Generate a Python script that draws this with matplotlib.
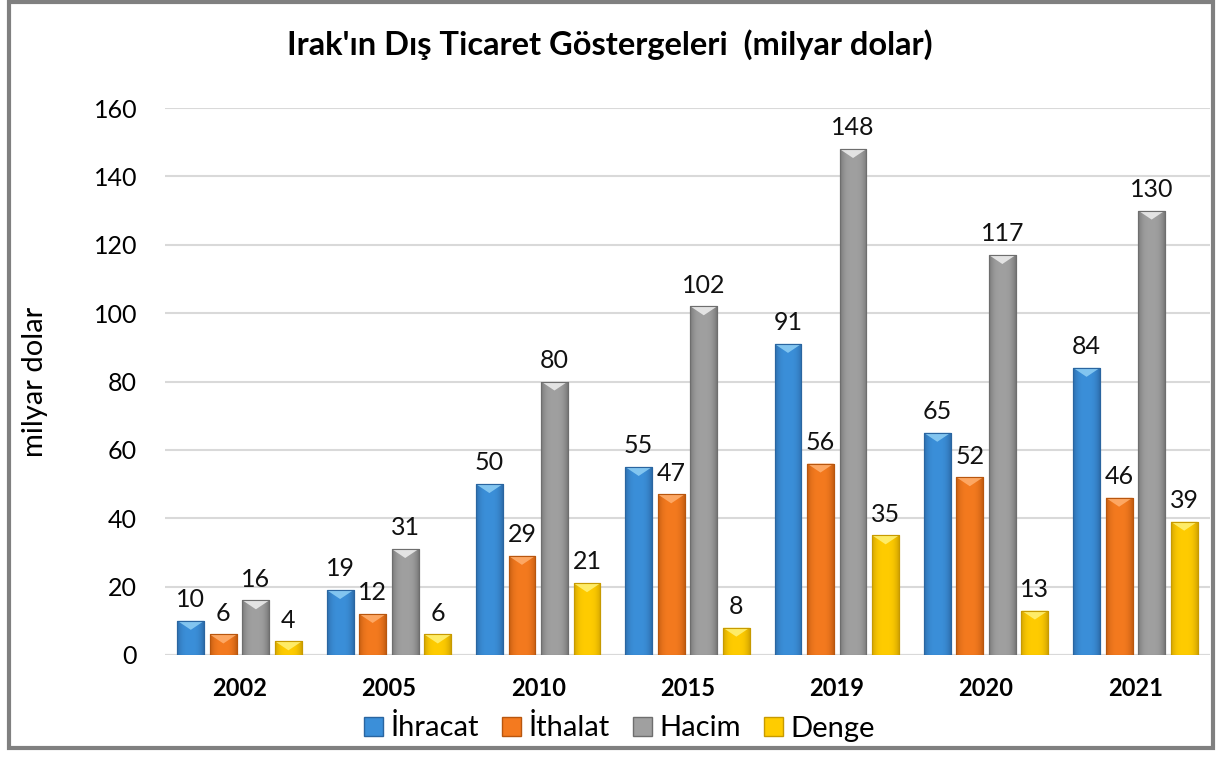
import matplotlib
matplotlib.use("Agg")
import matplotlib.pyplot as plt
import numpy as np
from matplotlib.patches import Rectangle, Polygon
from matplotlib.colors import to_rgb

plt.rcParams['font.family'] = ['Lato', 'DejaVu Sans']

years = ['2002', '2005', '2010', '2015', '2019', '2020', '2021']
ihracat = [10, 19, 50, 55, 91, 65, 84]
ithalat = [6, 12, 29, 47, 56, 52, 46]
hacim = [16, 31, 80, 102, 148, 117, 130]
denge = [4, 6, 21, 8, 35, 13, 39]
series_names = ['İhracat', 'İthalat', 'Hacim', 'Denge']
series = [ihracat, ithalat, hacim, denge]
colors = ['#3B8FD9', '#F47A1F', '#A0A0A0', '#FFCC00']
dark = ['#2A65A0', '#B8560E', '#6E6E6E', '#C79A00']
light = ['#8FD0F5', '#FFB070', '#F0F0F0', '#FFF27A']

fig = plt.figure(figsize=(12.2, 7.58), dpi=100)
ax = fig.add_axes([165/1220, 1-655/758, 1045/1220, 547/758])
ax.set_xlim(-0.5, len(years)-0.5)
ax.set_ylim(0, 160)
ax.set_yticks(range(0, 161, 20))
ax.yaxis.grid(True, color='#D9D9D9', linewidth=1.5)
ax.set_axisbelow(True)
for s in ax.spines.values():
    s.set_visible(False)
ax.axhline(0, color='#D9D9D9', linewidth=1.5, zorder=1)
ax.tick_params(length=0)
ax.tick_params(axis='y', labelsize=18, pad=20)
ax.set_xticks(range(len(years)))
ax.set_xticklabels(years, fontsize=17, fontweight='bold')
ax.tick_params(axis='x', pad=16)

x = np.arange(len(years))
pitch = 0.218
width = 0.18
px_per_unit_y = 547/160
depth = 9/px_per_unit_y

def blend(c1, c2, t):
    a = np.array(to_rgb(c1)); b = np.array(to_rgb(c2))
    return a*(1-t)+b*t

for i, (vals, c) in enumerate(zip(series, colors)):
    pos = x + (i-1.5)*pitch
    bars = ax.bar(pos, vals, width, color=c, edgecolor=dark[i], linewidth=0.8, zorder=2, label=series_names[i])
    for b, v in zip(bars, vals):
        x0 = b.get_x(); x1 = x0 + b.get_width(); h = b.get_height()
        n = 64
        t = np.abs(np.linspace(-1, 1, n))
        grad = np.array([blend(c, dark[i], tt**3*0.8) for tt in t])[None, :, :]
        im = ax.imshow(grad, extent=[x0, x1, 0, h], aspect='auto', zorder=2.1, interpolation='bilinear')
        im.set_clip_path(b)
        d = min(depth, h)
        tri = Polygon([[x0, h], [x1, h], [(x0+x1)/2, h-d]], closed=True,
                      facecolor=light[i], edgecolor='none', alpha=0.85, zorder=2.2)
        ax.add_patch(tri)
        ax.add_patch(Rectangle((x0, 0), x1-x0, h, fill=False, edgecolor=dark[i], linewidth=0.8, zorder=2.3))
        ax.annotate(str(v), (b.get_x()+b.get_width()/2, h), xytext=(0, 7), textcoords='offset points',
                    ha='center', va='bottom', fontsize=18, color='#111111')
    ax.set_xlim(-0.5, len(years)-0.5)
    ax.set_ylim(0, 160)

ax.set_ylabel('milyar dolar', fontsize=21)
ax.yaxis.set_label_coords(-0.112, 0.5)

fig.text(0.5, 1-45/758, "Irak'ın Dış Ticaret Göstergeleri  (milyar dolar)", ha='center', va='center',
         fontsize=23.5, fontweight='bold')

handles = [Rectangle((0, 0), 1, 1, facecolor=colors[i], edgecolor=dark[i]) for i in range(4)]
fig.legend(handles, series_names, loc='center', bbox_to_anchor=(0.508, 1-728/758), ncol=4,
           frameon=False, fontsize=21, handlelength=0.65, handleheight=0.65, handletextpad=0.25,
           columnspacing=0.8)

fig.add_artist(Rectangle((9/1220, 10/758), 1204/1220, 746/758, transform=fig.transFigure,
                         fill=False, edgecolor='#808080', linewidth=3))

fig.savefig('out.png', dpi=100)
